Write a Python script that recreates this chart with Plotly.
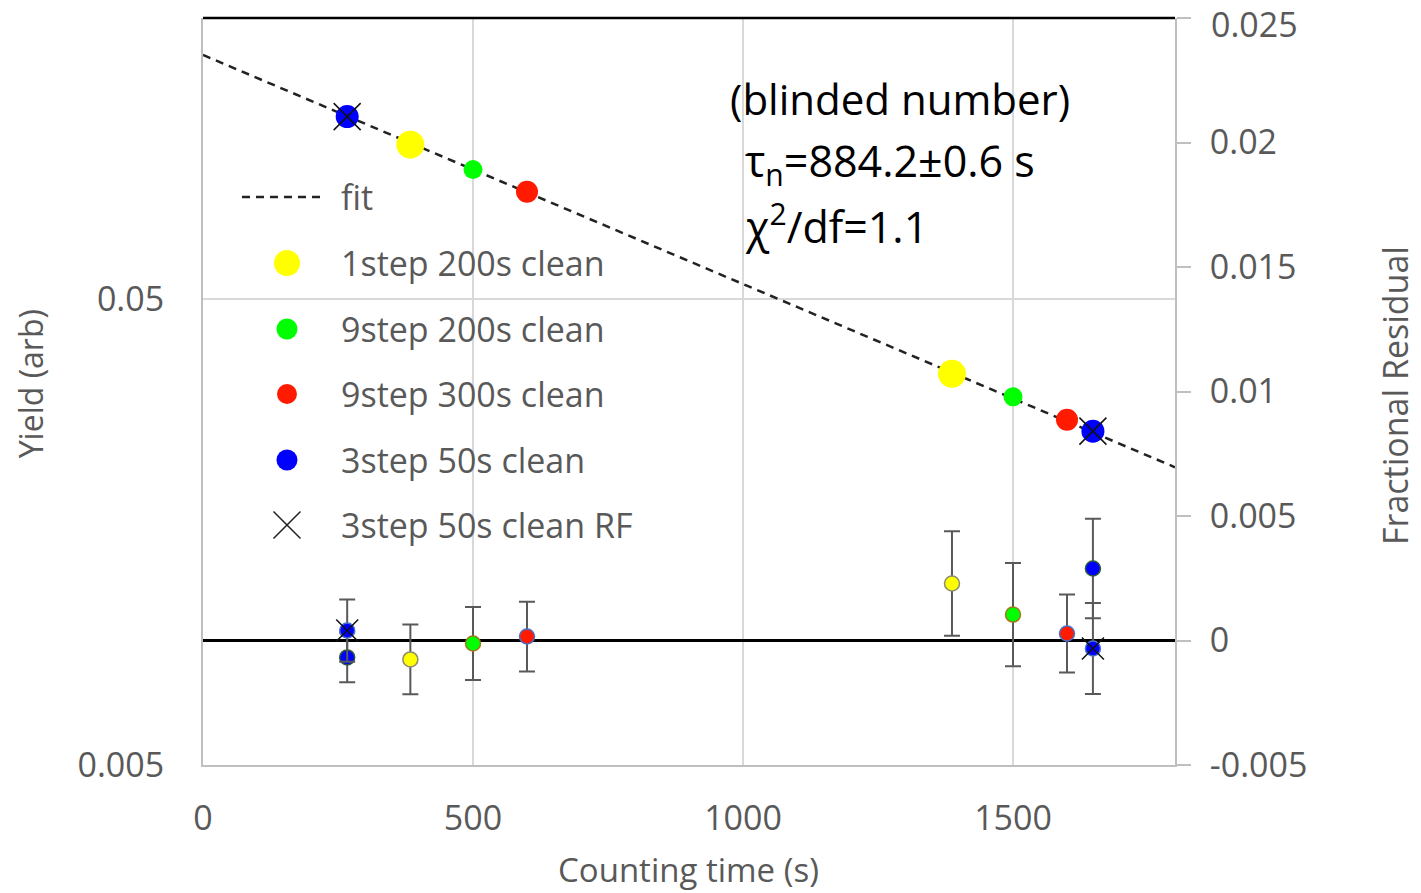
import math
import plotly.graph_objects as go

# ---- data -------------------------------------------------------------
series_names = ["1step 200s clean", "9step 200s clean", "9step 300s clean",
                "3step 50s clean", "3step 50s clean RF"]

t_1step200 = [384, 1387]
t_9step200 = [500, 1500]
t_9step300 = [600, 1600]
t_3step50 = [267, 1648]
t_3step50rf = [267, 1648]

yield_1step200 = [0.1070, 0.0345]
yield_9step200 = [0.0946, 0.0308]
yield_9step300 = [0.0848, 0.0275]
yield_3step50 = [0.1229, 0.0260]
yield_3step50rf = [0.1229, 0.0260]

resid_1step200 = [-0.00076, 0.00229]
resid_9step200 = [-0.00012, 0.00104]
resid_9step300 = [0.00016, 0.00028]
resid_3step50 = [-0.00068, 0.00289]
resid_3step50rf = [0.00040, -0.00032]

err_1step200 = [0.00140, 0.00210]
err_9step200 = [0.00147, 0.00207]
err_9step300 = [0.00140, 0.00157]
err_3step50 = [0.00100, 0.00200]
err_3step50rf = [0.00125, 0.00183]

# exponential fit: Y = A * exp(-t / tau)
fit_amp = 0.1666
fit_tau = 884.2
fit_t = [0, 1800]
fit_y = [fit_amp * math.exp(-t / fit_tau) for t in fit_t]

x_ticks = [0, 500, 1000, 1500]
yield_ticks = [0.005, 0.05]
yield_ticktext = ["0.005", "0.05"]
resid_ticks = [-0.005, 0, 0.005, 0.01, 0.015, 0.02, 0.025]
resid_ticktext = ["-0.005", "0", "0.005", "0.01", "0.015", "0.02", "0.025"]

# ---- styling ----------------------------------------------------------
FONT = "Open Sans"
GRAY_TXT = "#595959"
GRID = "#d9d9d9"
AXLINE = "#bfbfbf"
TXT_SIZE = 34

colors = ["#ffff00", "#00ff00", "#ff1a00", "#0000ff"]
outline = ["#8c8c6a", "#a0781e", "#4a6fc4", "#2d5a3a"]
yield_sizes = [28, 19, 22, 23]
legend_sizes = [26, 21, 20, 21]

ts = [t_1step200, t_9step200, t_9step300, t_3step50]
ys = [yield_1step200, yield_9step200, yield_9step300, yield_3step50]
rs = [resid_1step200, resid_9step200, resid_9step300, resid_3step50]
es = [err_1step200, err_9step200, err_9step300, err_3step50]

fig = go.Figure()

# fit line (yield axis)
fig.add_trace(go.Scatter(x=fit_t, y=fit_y, mode="lines", xaxis="x", yaxis="y",
                         line=dict(color="#222222", width=2.5, dash="8px,6px"),
                         showlegend=False, hoverinfo="skip"))

# residuals with error bars (right axis)
for i in range(4):
    fig.add_trace(go.Scatter(
        x=ts[i], y=rs[i], mode="markers", xaxis="x", yaxis="y2",
        error_y=dict(type="data", array=es[i], color=GRAY_TXT, thickness=2, width=8),
        marker=dict(color=colors[i], size=15, line=dict(color=outline[i], width=1.5)),
        showlegend=False))
fig.add_trace(go.Scatter(
    x=t_3step50rf, y=resid_3step50rf, mode="markers", xaxis="x", yaxis="y2",
    error_y=dict(type="data", array=err_3step50rf, color=GRAY_TXT, thickness=2, width=8),
    marker=dict(color=colors[3], size=15, line=dict(color="#4a6fc4", width=1.5)),
    showlegend=False))
fig.add_trace(go.Scatter(
    x=t_3step50rf, y=resid_3step50rf, mode="markers", xaxis="x", yaxis="y2",
    marker=dict(symbol="x-thin-open", color="#111111", size=22, line=dict(color="#111111", width=1.5)),
    showlegend=False))

# yields (left log axis)
for i in range(4):
    fig.add_trace(go.Scatter(
        x=ts[i], y=ys[i], mode="markers", xaxis="x", yaxis="y",
        marker=dict(color=colors[i], size=yield_sizes[i], line=dict(width=0)),
        name=series_names[i], showlegend=False))
fig.add_trace(go.Scatter(
    x=t_3step50rf, y=yield_3step50rf, mode="markers", xaxis="x", yaxis="y",
    marker=dict(symbol="x-thin-open", color="#111111", size=27, line=dict(color="#111111", width=1.5)),
    name=series_names[4], showlegend=False))

# ---- legend block drawn on a hidden overlay axis ------------------------
leg_rows = [0.6720, 0.5837, 0.4967, 0.4083, 0.3213]
leg_mx = 0.0864
leg_tx = 0.140
fig.add_trace(go.Scatter(x=[0.0401, 0.1265], y=[0.7604, 0.7604], mode="lines",
                         xaxis="x3", yaxis="y3",
                         line=dict(color="#222222", width=2.5, dash="8px,6px"),
                         showlegend=False, hoverinfo="skip"))
for i in range(4):
    fig.add_trace(go.Scatter(x=[leg_mx], y=[leg_rows[i]], mode="markers",
                             xaxis="x3", yaxis="y3",
                             marker=dict(color=colors[i], size=legend_sizes[i]),
                             showlegend=False, hoverinfo="skip"))
fig.add_trace(go.Scatter(x=[leg_mx], y=[leg_rows[4]], mode="markers",
                         xaxis="x3", yaxis="y3",
                         marker=dict(symbol="x-thin-open", color="#222222", size=27,
                                     line=dict(color="#222222", width=1.5)),
                         showlegend=False, hoverinfo="skip"))

annotations = [dict(x=leg_tx, y=0.7604, xref="paper", yref="paper", text="fit",
                    showarrow=False, xanchor="left", yanchor="middle",
                    font=dict(family=FONT, size=TXT_SIZE, color=GRAY_TXT))]
for i, name in enumerate(series_names):
    annotations.append(dict(x=leg_tx, y=leg_rows[i], xref="paper", yref="paper", text=name,
                            showarrow=False, xanchor="left", yanchor="middle",
                            font=dict(family=FONT, size=TXT_SIZE, color=GRAY_TXT)))

# fit result text
annotations += [
    dict(x=0.5402, y=0.8929, xref="paper", yref="paper", text="(blinded number)",
         showarrow=False, xanchor="left", yanchor="middle",
         font=dict(family=FONT, size=42, color="#000000")),
    dict(x=0.5556, y=0.8059, xref="paper", yref="paper",
         text="τ<sub>n</sub>=%.1f±0.6 s" % fit_tau,
         showarrow=False, xanchor="left", yanchor="middle",
         font=dict(family=FONT, size=43, color="#000000")),
    dict(x=0.5556, y=0.7229, xref="paper", yref="paper", text="χ<sup>2</sup>/df=1.1",
         showarrow=False, xanchor="left", yanchor="middle",
         font=dict(family=FONT, size=43, color="#000000")),
]

# axis titles
annotations += [
    dict(x=-0.178, y=0.511, xref="paper", yref="paper", text="Yield (arb)", textangle=-90,
         showarrow=False, xanchor="center", yanchor="middle",
         font=dict(family=FONT, size=32, color=GRAY_TXT)),
    dict(x=1.2264, y=0.494, xref="paper", yref="paper", text="Fractional Residual", textangle=-90,
         showarrow=False, xanchor="center", yanchor="middle",
         font=dict(family=FONT, size=34, color=GRAY_TXT)),
    dict(x=0.499, y=-0.1395, xref="paper", yref="paper", text="Counting time (s)",
         showarrow=False, xanchor="center", yanchor="middle",
         font=dict(family=FONT, size=33, color=GRAY_TXT)),
]

# the top residual label sits at the page edge; anchor its box to the top of the page
annotations.append(dict(x=1.0355, y=1.0241, xref="paper", yref="paper", text=resid_ticktext[-1],
                        showarrow=False, xanchor="left", yanchor="top", borderpad=0,
                        font=dict(family=FONT, size=TXT_SIZE, color=GRAY_TXT)))

tickfont = dict(family=FONT, size=TXT_SIZE, color=GRAY_TXT)

fig.update_layout(
    width=1421, height=893,
    margin=dict(l=203, r=246, t=18, b=128, autoexpand=False),
    paper_bgcolor="white", plot_bgcolor="white",
    font=dict(family=FONT, color=GRAY_TXT),
    showlegend=False,
    annotations=annotations,
    xaxis=dict(range=[0, 1800], tickvals=x_ticks, showgrid=True, gridcolor=GRID, gridwidth=2,
               showline=True, linecolor=AXLINE, linewidth=2, ticks="", zeroline=False,
               tickfont=tickfont, ticklabelstandoff=22, automargin=False),
    yaxis=dict(type="log", range=[math.log10(0.005), math.log10(0.2)],
               tickvals=yield_ticks, ticktext=yield_ticktext,
               showgrid=True, gridcolor=GRID, gridwidth=2,
               showline=True, linecolor=AXLINE, linewidth=2, ticks="",
               tickfont=tickfont, ticklabelstandoff=30, automargin=False),
    yaxis2=dict(overlaying="y", side="right", range=[-0.00500001, 0.02500001],
                tickvals=resid_ticks, ticktext=resid_ticktext[:-1] + [""],
                showgrid=False, zeroline=True, zerolinecolor="#000000", zerolinewidth=2.5,
                showline=True, linecolor=AXLINE, linewidth=2,
                ticks="outside", ticklen=14, tickcolor=AXLINE, tickwidth=2,
                tickfont=tickfont, ticklabelstandoff=12, automargin=False),
    xaxis3=dict(overlaying="x", range=[0, 1], visible=False, automargin=False),
    yaxis3=dict(overlaying="y", range=[0, 1], visible=False, automargin=False),
    shapes=[dict(type="line", xref="paper", yref="paper", x0=0, x1=1, y0=1, y1=1,
                 line=dict(color="#000000", width=2.5))],
)

fig.write_html("out.html")
